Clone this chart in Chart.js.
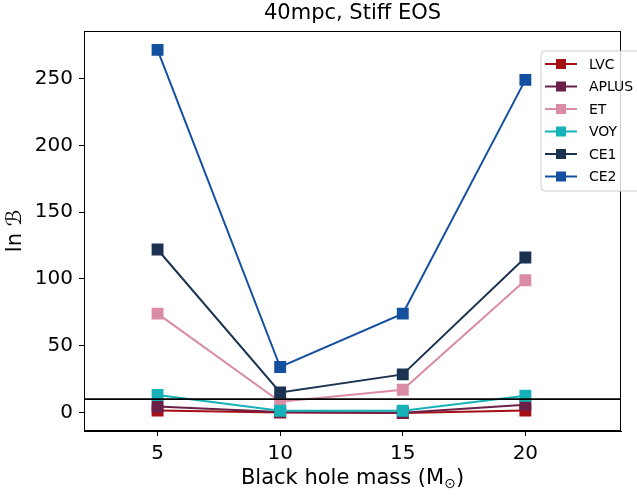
<!DOCTYPE html>
<html><head><meta charset="utf-8">
<script src="https://cdn.jsdelivr.net/npm/chart.js@4/dist/chart.umd.min.js"></script>
<style>html,body{margin:0;padding:0;background:#fff}canvas{display:block}</style>
</head><body>
<canvas id="c" width="637" height="496"></canvas>
<script>
const masses = [5, 10, 15, 20];
const seriesNames = ['LVC', 'APLUS', 'ET', 'VOY', 'CE1', 'CE2'];
const LVC   = [1.5, 0, -0.5, 1.5];
const APLUS = [4.5, 0.3, -0.3, 5.8];
const ET    = [74, 8, 17, 99];
const VOY   = [13, 1.3, 1.3, 12.5];
const CE1   = [122, 15, 28.5, 116];
const CE2   = [271.5, 34, 74, 249];
const threshold = 10;
const xTicks = [5, 10, 15, 20];
const yTicks = [0, 50, 100, 150, 200, 250];
const colors = ['#a50f15', '#6b2147', '#d98ca3', '#17b2b8', '#1b3350', '#1550a0'];

const values = [LVC, APLUS, ET, VOY, CE1, CE2];
const datasets = values.map((v, i) => ({
  label: seriesNames[i],
  data: v.map((y, j) => ({x: masses[j], y})),
  borderColor: colors[i], backgroundColor: colors[i],
  pointBorderColor: colors[i], pointBackgroundColor: colors[i],
  borderWidth: 2, pointStyle: 'rect', pointRadius: 7, pointHoverRadius: 7,
  tension: 0, order: 6 - i
}));
datasets.push({
  label: '_thr', data: [{x: 2, y: threshold}, {x: 23.9, y: threshold}],
  borderColor: '#000', borderWidth: 1.6, pointRadius: 0, order: 0
});

const FONT = 'DejaVu Sans';
const deco = {
  id: 'deco',
  afterDraw(chart) {
    const ctx = chart.ctx, a = chart.chartArea;
    ctx.save();
    // frame
    ctx.strokeStyle = '#000'; ctx.lineWidth = 1;
    ctx.strokeRect(a.left + 0.5, a.top + 0.5, a.right - a.left - 1, a.bottom - a.top - 1);
    // title
    ctx.fillStyle = '#000'; ctx.textAlign = 'center'; ctx.textBaseline = 'middle';
    ctx.font = '21px "' + FONT + '"';
    ctx.fillText('40mpc, Stiff EOS', (a.left + a.right) / 2, 14);
    // x label with subscript
    const main = 'Black hole mass (M', sub = '\u2299', end = ')';
    ctx.font = '21px "' + FONT + '"';
    const w1 = ctx.measureText(main).width, w3 = ctx.measureText(end).width;
    ctx.font = '14px "' + FONT + '"';
    const w2 = ctx.measureText(sub).width;
    let x0 = (a.left + a.right) / 2 - (w1 + w2 + w3) / 2;
    const yl = 479;
    ctx.textAlign = 'left';
    ctx.font = '21px "' + FONT + '"';
    ctx.fillText(main, x0, yl);
    ctx.font = '14px "' + FONT + '"';
    ctx.fillText(sub, x0 + w1, yl + 5);
    ctx.font = '21px "' + FONT + '"';
    ctx.fillText(end, x0 + w1 + w2, yl);
    // y label
    ctx.save();
    ctx.translate(16, (a.top + a.bottom) / 2);
    ctx.rotate(-Math.PI / 2);
    ctx.textAlign = 'center';
    ctx.fillText('ln \u212C', 0, 0);
    ctx.restore();
    // legend
    const lx = 541, ly = 51, lw = 100, lh = 140, r = 4;
    ctx.beginPath();
    ctx.moveTo(lx + r, ly); ctx.lineTo(lx + lw - r, ly); ctx.quadraticCurveTo(lx + lw, ly, lx + lw, ly + r);
    ctx.lineTo(lx + lw, ly + lh - r); ctx.quadraticCurveTo(lx + lw, ly + lh, lx + lw - r, ly + lh);
    ctx.lineTo(lx + r, ly + lh); ctx.quadraticCurveTo(lx, ly + lh, lx, ly + lh - r);
    ctx.lineTo(lx, ly + r); ctx.quadraticCurveTo(lx, ly, lx + r, ly);
    ctx.closePath();
    ctx.fillStyle = 'rgba(255,255,255,0.8)'; ctx.fill();
    ctx.strokeStyle = '#cccccc'; ctx.lineWidth = 1; ctx.stroke();
    ctx.font = '14px "' + FONT + '"';
    ctx.textAlign = 'left'; ctx.textBaseline = 'middle';
    seriesNames.forEach((n, i) => {
      const y = 64 + i * 22.5;
      ctx.strokeStyle = colors[i]; ctx.lineWidth = 2;
      ctx.beginPath(); ctx.moveTo(545, y); ctx.lineTo(577, y); ctx.stroke();
      ctx.fillStyle = colors[i];
      ctx.fillRect(556, y - 5, 10, 10);
      ctx.fillStyle = '#000';
      ctx.fillText(n, 589, y + 1);
    });
    ctx.restore();
  }
};

new Chart(document.getElementById('c'), {
  type: 'line',
  data: {datasets},
  options: {
    responsive: false, devicePixelRatio: 1, animation: false,
    layout: {padding: {left: 0, right: 16, top: 31, bottom: 0}},
    plugins: {legend: {display: false}, title: {display: false}, tooltip: {enabled: false}},
    scales: {
      x: {
        type: 'linear', min: 2, max: 23.9,
        afterBuildTicks: s => { s.ticks = xTicks.map(v => ({value: v})); },
        afterFit: s => { s.height = 65; },
        grid: {drawOnChartArea: false, drawTicks: true, tickLength: 5, color: '#000'},
        border: {display: true, color: '#000'},
        ticks: {color: '#000', font: {family: FONT, size: 20}, padding: 6, maxRotation: 0}
      },
      y: {
        type: 'linear', min: -13.9, max: 285.6,
        afterBuildTicks: s => { s.ticks = yTicks.map(v => ({value: v})); },
        afterFit: s => { s.width = 84; },
        grid: {drawOnChartArea: false, drawTicks: true, tickLength: 5, color: '#000'},
        border: {display: true, color: '#000'},
        ticks: {color: '#000', font: {family: FONT, size: 20}, padding: 6}
      }
    }
  },
  plugins: [deco]
});
</script>
</body></html>
